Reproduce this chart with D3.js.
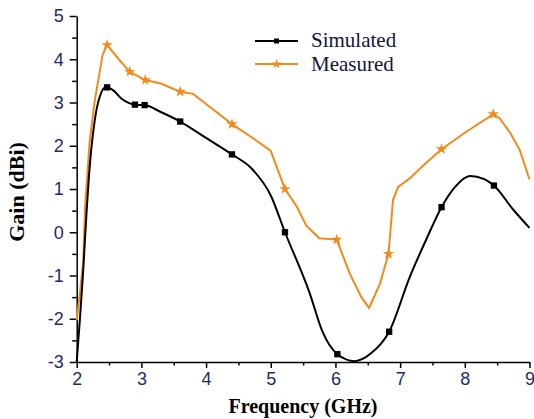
<!DOCTYPE html>
<html>
<head>
<meta charset="utf-8">
<script src="https://cdn.jsdelivr.net/npm/d3@7"></script>
<style>
  body { margin: 0; background: #fff; }
  .tick text { font-family: "Liberation Sans", Arial, sans-serif; font-size: 18px; fill: #1f2b66; }
  .axis path, .axis line { stroke: #000; stroke-width: 1.5; }
  .axis-title { font-family: "Liberation Serif", "Times New Roman", serif; font-size: 20px; font-weight: bold; fill: #000; }
  .legend-text { font-family: "Liberation Serif", "Times New Roman", serif; font-size: 21px; fill: #14143c; }
</style>
</head>
<body>
<div id="chart"></div>
<script>
// Simulated gain curve (GHz, dBi)
const simFreq = [2.0, 2.05, 2.1, 2.15, 2.2, 2.28, 2.36, 2.45, 2.55, 2.7, 2.9, 3.05, 3.3, 3.6, 4.0, 4.4, 4.7, 5.0, 5.22, 5.6, 5.8, 6.03, 6.3, 6.55, 6.83, 7.15, 7.4, 7.64, 7.85, 8.08, 8.3, 8.45, 8.75, 9.0];
const simGain = [-3.0, -2.0, -0.9, 0.4, 1.5, 2.6, 3.15, 3.35, 3.3, 3.08, 2.95, 2.94, 2.78, 2.56, 2.18, 1.8, 1.48, 0.85, 0.0, -1.4, -2.3, -2.82, -2.98, -2.8, -2.3, -1.03, -0.18, 0.58, 1.05, 1.3, 1.23, 1.08, 0.52, 0.1];
// Simulated marker points
const simMarkFreq = [2.47, 2.9, 3.05, 3.6, 4.4, 5.22, 6.03, 6.83, 7.64, 8.45];
const simMarkGain = [3.35, 2.95, 2.94, 2.56, 1.8, 0.0, -2.82, -2.3, 0.58, 1.08];

// Measured gain curve
const measFreq = [2.0, 2.05, 2.1, 2.13, 2.2, 2.28, 2.4, 2.47, 2.65, 2.82, 3.06, 3.3, 3.6, 3.8, 4.1, 4.4, 4.75, 5.0, 5.22, 5.4, 5.55, 5.75, 6.02, 6.22, 6.4, 6.52, 6.69, 6.82, 6.89, 6.97, 7.15, 7.4, 7.64, 8.0, 8.44, 8.54, 8.7, 8.85, 9.0];
const measGain = [-2.03, -1.4, -0.7, 0.6, 2.1, 3.05, 4.1, 4.33, 4.0, 3.71, 3.52, 3.44, 3.25, 3.2, 2.85, 2.5, 2.15, 1.88, 1.0, 0.6, 0.15, -0.14, -0.17, -0.95, -1.5, -1.75, -1.18, -0.5, 0.75, 1.05, 1.25, 1.6, 1.92, 2.3, 2.73, 2.63, 2.3, 1.9, 1.22];
// Measured marker points
const measMarkFreq = [2.47, 2.82, 3.06, 3.6, 4.4, 5.22, 6.02, 6.82, 7.64, 8.44];
const measMarkGain = [4.33, 3.71, 3.52, 3.25, 2.5, 1.0, -0.17, -0.5, 1.92, 2.73];

const xTicks = [2, 3, 4, 5, 6, 7, 8, 9];
const yTicks = [-3, -2, -1, 0, 1, 2, 3, 4, 5];

const width = 534, height = 419;
const margin = { top: 16, right: 4.5, bottom: 57, left: 76.7 };

const svg = d3.select("#chart").append("svg")
  .attr("width", width)
  .attr("height", height);

const x = d3.scaleLinear().domain([2, 9]).range([margin.left, width - margin.right]);
const y = d3.scaleLinear().domain([-3, 5]).range([height - margin.bottom, margin.top]);

const zip = (a, b) => a.map((v, i) => [v, b[i]]);
const sim = zip(simFreq, simGain);
const meas = zip(measFreq, measGain);

// Minor ticks
svg.append("g").attr("class", "axis")
  .attr("transform", `translate(0, ${y(-3)})`)
  .call(d3.axisBottom(x).tickValues(d3.range(2.5, 9, 1)).tickSize(3.5).tickFormat(""))
  .select(".domain").remove();
svg.append("g").attr("class", "axis")
  .attr("transform", `translate(${x(2)}, 0)`)
  .call(d3.axisLeft(y).tickValues(d3.range(-2.5, 5, 1)).tickSize(4.5).tickFormat(""))
  .select(".domain").remove();

// Major axes
svg.append("g").attr("class", "axis")
  .attr("transform", `translate(0, ${y(-3)})`)
  .call(d3.axisBottom(x).tickValues(xTicks).tickSize(6).tickSizeOuter(0).tickPadding(4).tickFormat(d3.format("d")));
svg.append("g").attr("class", "axis")
  .attr("transform", `translate(${x(2)}, 0)`)
  .call(d3.axisLeft(y).tickValues(yTicks).tickSize(7).tickSizeOuter(0).tickPadding(6).tickFormat(d => d < 0 ? "-" + Math.abs(d) : d));

// Lines
const line = d3.line().x(d => x(d[0])).y(d => y(d[1]));

svg.append("path")
  .datum(meas)
  .attr("fill", "none")
  .attr("stroke", "#f28a1c")
  .attr("stroke-width", 2)
  .attr("d", line.curve(d3.curveLinear));

svg.append("path")
  .datum(sim)
  .attr("fill", "none")
  .attr("stroke", "#000")
  .attr("stroke-width", 2)
  .attr("d", line.curve(d3.curveMonotoneX));

// Markers
const square = d3.symbol().type(d3.symbolSquare).size(40);
const star = d3.symbol().type(d3.symbolStar).size(40);

svg.append("g").selectAll("path")
  .data(zip(simMarkFreq, simMarkGain))
  .join("path")
  .attr("transform", d => `translate(${x(d[0])}, ${y(d[1])})`)
  .attr("d", square)
  .attr("fill", "#000");

svg.append("g").selectAll("path")
  .data(zip(measMarkFreq, measMarkGain))
  .join("path")
  .attr("transform", d => `translate(${x(d[0])}, ${y(d[1])})`)
  .attr("d", star)
  .attr("fill", "#f28a1c");

// Axis titles
svg.append("text")
  .attr("class", "axis-title")
  .attr("text-anchor", "middle")
  .attr("x", 303)
  .attr("y", 413)
  .text("Frequency (GHz)");

svg.append("text")
  .attr("class", "axis-title")
  .attr("text-anchor", "middle")
  .attr("transform", "translate(24, 192) rotate(-90)")
  .style("font-size", "22px")
  .text("Gain (dBi)");

// Legend
const legend = svg.append("g");
legend.append("line")
  .attr("x1", 255).attr("x2", 298).attr("y1", 41).attr("y2", 41)
  .attr("stroke", "#000").attr("stroke-width", 2);
legend.append("path")
  .attr("transform", "translate(276.5, 41)")
  .attr("d", d3.symbol().type(d3.symbolSquare).size(25))
  .attr("fill", "#000");
legend.append("text")
  .attr("class", "legend-text")
  .attr("x", 311).attr("y", 47)
  .text("Simulated");

legend.append("line")
  .attr("x1", 255).attr("x2", 298).attr("y1", 64).attr("y2", 64)
  .attr("stroke", "#f28a1c").attr("stroke-width", 2);
legend.append("path")
  .attr("transform", "translate(276.5, 64)")
  .attr("d", d3.symbol().type(d3.symbolStar).size(30))
  .attr("fill", "#f28a1c");
legend.append("text")
  .attr("class", "legend-text")
  .attr("x", 311).attr("y", 71)
  .text("Measured");
</script>
</body>
</html>
